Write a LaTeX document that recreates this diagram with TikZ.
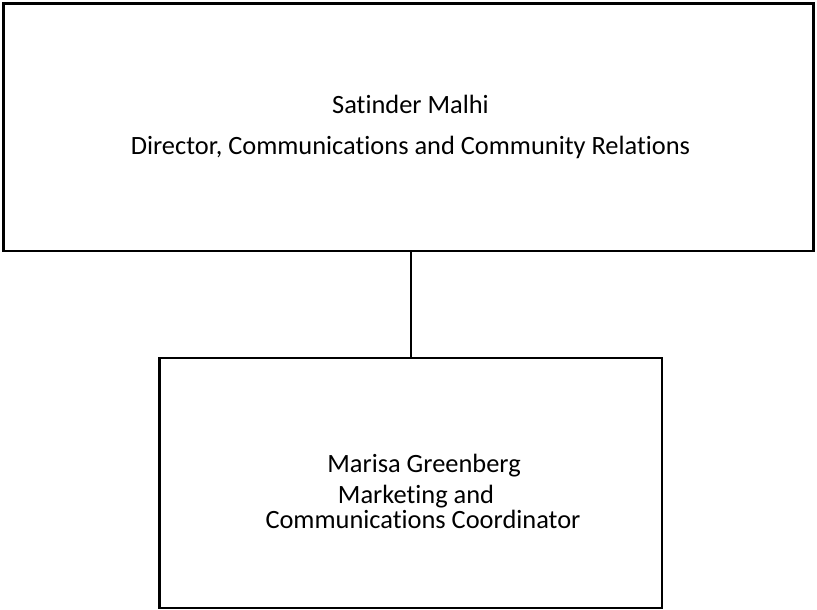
\documentclass[tikz,border=0pt]{standalone}
\usepackage{fontspec}
\setmainfont{Carlito}[Ligatures=NoCommon]
\begin{document}
\begin{tikzpicture}[x=1bp, y=1bp, line width=2.5bp, every node/.style={font=\fontsize{26.5}{32}\selectfont}]
            \useasboundingbox (0,0) rectangle (817,610);
            \tikzset{post/.style={draw, rectangle, inner sep=0pt, minimum width=#1}}
            \node [post=810bp, minimum height=247.5bp] (Director) at (408.5,482.75) {};
            \node [post=502.5bp, minimum height=250bp] (Coordinator) at (410.75,127) {};
            \node [anchor=base] (DirName) at (410.5,496) {Satinder Malhi};
            \node [anchor=base] (DirTitle) at (410.5,455) {Director, Communications and Community Relations};
            \node [anchor=base] (CoordName) at (424,137) {Marisa Greenberg};
            \node [anchor=base] (CoordRole) at (416,106) {Marketing and};
            \node [anchor=base] (CoordTitle) at (423,81) {Communications Coordinator};
            \path (Director.south -| Coordinator.north) edge (Coordinator.north);
        \end{tikzpicture}
\end{document}
